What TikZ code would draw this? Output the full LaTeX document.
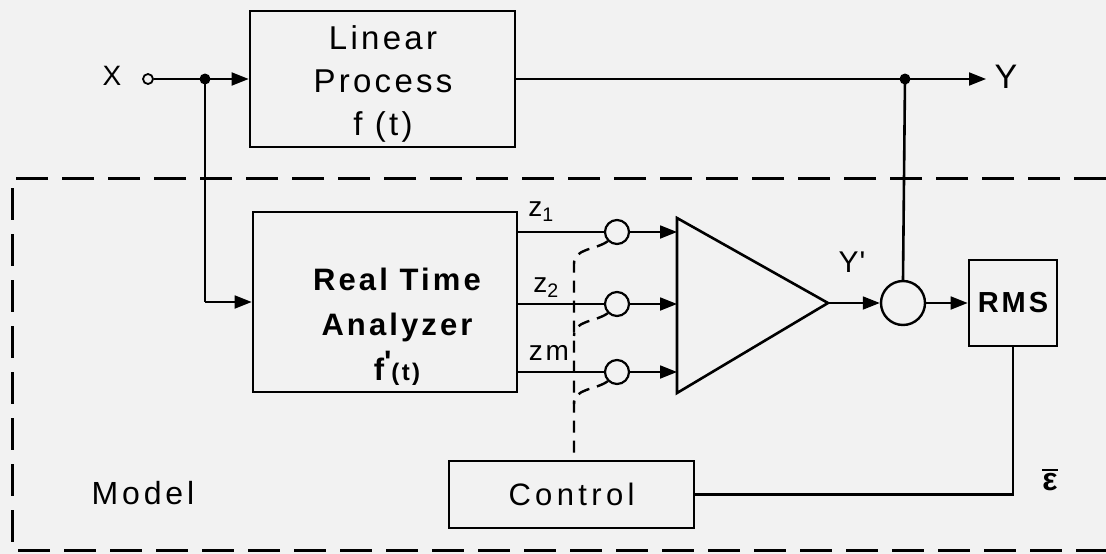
\documentclass[tikz,border=0pt]{standalone}
\usepackage{fontspec}
\setmainfont{Liberation Sans}
\newfontfamily\hand{Liberation Sans}[LetterSpace=10]
\usetikzlibrary{arrows.meta,calc}
\definecolor{paper}{RGB}{242,242,242}
\begin{document}
\begin{tikzpicture}[x=1pt,y=-1pt,
  box/.style={draw,line width=2.6pt,inner sep=0pt},
  wire/.style={line width=1.8pt},
  thick wire/.style={line width=2.6pt},
  arr/.style={wire,-{Triangle[length=17pt,width=13pt]}},
  dsh/.style={line width=2.4pt,dash pattern=on 12pt off 8pt},
  border/.style={line width=3pt,dash pattern=on 32pt off 14pt},
  lbl/.style={font=\hand\fontsize{33}{43}\selectfont,align=center,inner sep=0pt},
  sml/.style={font=\hand\fontsize{28}{30}\selectfont,inner sep=0pt},
  sw/.style={circle,draw,line width=2.2pt,minimum size=24pt,inner sep=0pt},
  dot/.style={circle,fill,minimum size=11pt,inner sep=0pt},
]
\fill[paper] (0,0) rectangle (1106,554);
\useasboundingbox (0,0) rectangle (1106,554);

% model border
\draw[border] (1106,178) -- (12,178) -- (12,550) -- (1106,550);

% blocks
\node[box,minimum width=265pt,minimum height=136pt] (lp) at (382.5,79) {};
\node[lbl] (lpt) at (383,84) {Linear\\Process\\f (t)};
\node[box,minimum width=264pt,minimum height=180pt] (rta) at (385,302) {};
\node[lbl,font=\hand\fontsize{31}{45}\selectfont\bfseries] (rtat) at (397,327)
  {Real Time\\Analyzer\\f\raisebox{0.25em}{\textquotesingle}{\fontsize{24}{26}\selectfont(t)}};
\node[box,minimum width=88pt,minimum height=86pt,font=\hand\fontsize{29}{30}\selectfont\bfseries] (rms) at (1013,303) {RMS};
\node[box,minimum width=245pt,minimum height=67pt,font=\hand\fontsize{31}{34}\selectfont\addfontfeature{LetterSpace=14}] (ctl) at (571.5,494.5) {Control};

% amplifier
\coordinate (ta) at (677,218);
\coordinate (tb) at (677,393);
\coordinate (tc) at (828,303);
\draw[line width=2.6pt,line join=miter] (ta) -- (tc) -- (tb) -- cycle;

% circles and junctions
\node[circle,draw,line width=2.4pt,minimum size=44pt,inner sep=0pt] (sum) at (903,303) {};
\node[sw] (s1) at (617,232) {};
\node[sw] (s2) at (617,304) {};
\node[sw] (s3) at (617,372) {};
\node[circle,draw,line width=1.8pt,minimum size=10pt,inner sep=0pt] (xin) at (148,79) {};
\node[dot] (j1) at (205,79) {};
\node[dot] (j2) at (905,79) {};
\coordinate (yend) at (986,79);

% labels
\node[sml] (xl) at (112,76) {X};
\node[sml,font=\hand\fontsize{34}{36}\selectfont] (yl) at (1006,77) {Y};
\node[sml] (z1) at (541,212) {z\textsubscript{1}};
\node[sml] (z2) at (546,288) {z\textsubscript{2}};
\node[sml] (zm) at (549,353) {zm};
\node[sml,font=\hand\fontsize{30}{32}\selectfont] (yp) at (852,262) {Y\kern1pt\textquotesingle};
\node[inner sep=0pt,font=\fontsize{32}{34}\selectfont\bfseries] (eps) at (1050,480)
  {\makebox[0pt][l]{\raisebox{0.62em}{\rule{0.5em}{2.2pt}}}ε};
\node[sml,font=\hand\fontsize{32}{34}\selectfont\addfontfeature{LetterSpace=12}] (mdl) at (143,493) {Model};

% connectors
\draw[wire] (xin.east) -- (j1.center);
\draw[arr] (j1.center) -- (lp.west);
\draw[thick wire] (j1.center) -- (j1.center |- rta.west);
\draw[arr] (j1.center |- rta.west) -- (rta.west);
\draw[wire] (lp.east) -- (j2.center);
\draw[arr] (j2.center) -- (yend);
\draw[thick wire] (j2.center) -- (sum.north);
\draw[arr] (tc) -- (sum.west);
\draw[arr] (sum.east) -- (rms.west);
\draw[thick wire] (rms.south) -- (rms.south |- ctl.east) -- (ctl.east);

\foreach \s in {s1,s2,s3}{
  \draw[wire] (\s.west -| rta.east) -- (\s.west);
  \draw[arr] (\s.east) -- (\s.east -| ta);
}

% switch actuation (dashed)
\coordinate (bus) at (574,264);
\draw[dsh] (s1.225) to[out=215,in=90] (bus) -- (bus |- ctl.north);
\draw[dsh] (s2.225) to[out=215,in=90] ($(bus)+(0,72)$);
\draw[dsh] (s3.225) to[out=215,in=90] ($(bus)+(0,140)$);
\end{tikzpicture}
\end{document}
